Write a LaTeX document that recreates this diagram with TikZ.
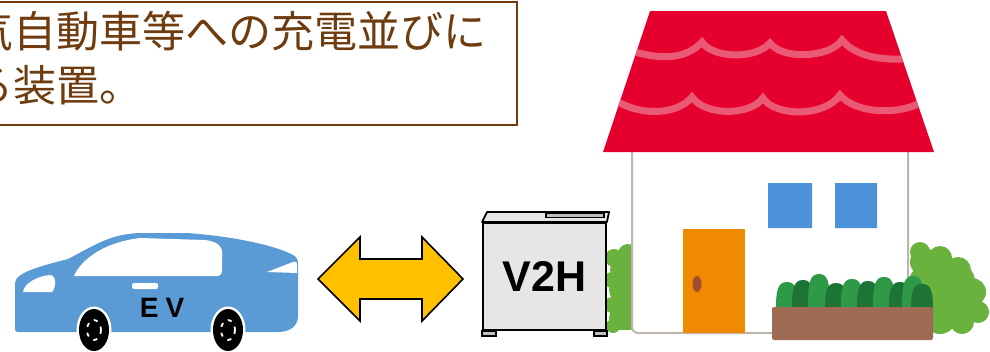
\documentclass[tikz,border=0pt]{standalone}
\usepackage{fontspec}
\newfontfamily\jpfont{Noto Sans CJK JP}
\newfontfamily\labelfont{Liberation Sans}
\definecolor{notebrown}{HTML}{6F3C10}
\definecolor{carblue}{HTML}{5B9BD5}
\definecolor{arrowyellow}{HTML}{FFC000}
\definecolor{unitgrey}{HTML}{E6E6E6}
\definecolor{footgrey}{HTML}{BFBFBF}
\definecolor{roofred}{HTML}{E6002E}
\definecolor{roofpink}{HTML}{EA5A74}
\definecolor{wallgrey}{HTML}{BEB6AA}
\definecolor{winblue}{HTML}{4B92D8}
\definecolor{doororange}{HTML}{F08A00}
\definecolor{knobbrown}{HTML}{9E4E2E}
\definecolor{bushgreen}{HTML}{6AB23E}
\definecolor{leafdark}{HTML}{1D7434}
\definecolor{leafmid}{HTML}{2E9A47}
\definecolor{soilbrown}{HTML}{9E6B52}
\begin{document}
\begin{tikzpicture}[x=1pt,y=-1pt]
\tikzstyle{every node}=[inner sep=0pt]
\tikzstyle{notetext}=[anchor=west,text=notebrown,font=\jpfont\fontsize{43}{54}\selectfont]
\tikzstyle{notebox}=[draw=notebrown,line width=2pt,fill=white]
\tikzstyle{unit}=[draw,line width=1.8pt,fill=unitgrey]
\tikzstyle{wave}=[draw=roofpink,line width=7pt,line cap=round]
\tikzstyle{wheel}=[fill=black]

\clip (0,0) rectangle (990,351);

% note
\draw[notebox] (-70,2) rectangle (517,125);
\node[notetext] (line1) at (-30,31) {気自動車等への充電並びに};
\node[notetext] (line2) at (-30,85) {る装置。};

% car body
\fill[carblue] (15,330) -- (15,283) .. controls (15,272) and (45,265) .. (68,259)
  .. controls (95,245) and (110,234) .. (140,233) -- (187,233)
  .. controls (230,236) and (275,245) .. (293,255) .. controls (297,257) and (298,260) .. (298,264)
  -- (298,316) .. controls (298,326) and (290,332) .. (278,332) -- (20,332)
  .. controls (16,332) and (15,331) .. (15,330) -- cycle;
\fill[white] (74,276) .. controls (80,262) and (100,243) .. (140,238) -- (205,240)
  .. controls (222,242) and (223,250) .. (222,258) -- (222,270)
  .. controls (222,275) and (220,276) .. (215,276) -- cycle;
\fill[white] (23,292) .. controls (24,283) and (38,276) .. (50,275)
  .. controls (57,275) and (56,288) .. (52,292) -- cycle;
\fill[white] (267,272) -- (293,262) .. controls (297,261) and (297,263) .. (297,265) -- (297,273) -- cycle;
\fill[white,rounded corners=2pt] (132,283) rectangle (158,289);
\node[font=\labelfont\bfseries\fontsize{28}{28}\selectfont] (ev) at (162,308) {E\hspace{7pt}V};

% wheels
\foreach \cx/\n in {94/rear,228/front}{
  \coordinate (\n) at (\cx,330);
  \fill[white] (\n) ellipse (17.5 and 23.5);
  \fill[wheel] (\n) ellipse (15 and 21);
  \draw[white,line width=1.8pt,dash pattern=on 4pt off 6pt] (\n) ellipse (7 and 10);
}

% arrow
\filldraw[fill=arrowyellow,line width=1.6pt,line join=miter] (318,279) -- (360,237) -- (360,259)
  -- (422,259) -- (422,237) -- (463,279) -- (422,321) -- (422,299) -- (360,299) -- (360,321) -- cycle;

% bushes
\fill[bushgreen] (614,258) circle (9) (628,254) circle (10) (612,280) circle (8)
  (621,290) circle (12) (612,305) circle (8) (621,318) circle (12) (613,326) circle (7)
  (622,270) circle (12) (622,302) circle (12);
\fill[bushgreen] (618,252) rectangle (634,330);
\fill[bushgreen] (920,252) circle (10) (940,258) circle (12) (958,270) circle (13)
  (972,292) circle (14) (978,312) circle (11) (962,322) circle (12) (940,318) circle (16)
  (930,285) circle (22) (950,295) circle (18) (935,272) circle (22) (955,282) circle (20)
  (960,305) circle (20) (935,308) circle (22) (924,262) circle (14);

% house
\filldraw[fill=white,draw=wallgrey,line width=2pt,rounded corners=6pt] (632,140) rectangle (908,333);
\fill[roofred] (650,11) -- (886,11) -- (934,152) -- (603,152) -- cycle;
\begin{scope}
\clip (650,11) -- (886,11) -- (934,152) -- (603,152) -- cycle;
\draw[wave] (635,52) .. controls (670,62) and (690,55) .. (702,42)
  .. controls (712,58) and (755,60) .. (770,43)
  .. controls (782,60) and (830,58) .. (842,40)
  .. controls (855,56) and (880,60) .. (902,59);
\draw[wave] (620,103) .. controls (645,116) and (678,114) .. (692,97)
  .. controls (705,116) and (750,116) .. (763,98)
  .. controls (775,117) and (825,117) .. (840,95)
  .. controls (855,113) and (895,115) .. (918,104);
\end{scope}
\fill[winblue] (768,183) rectangle (812,228) (835,183) rectangle (877,228);
\fill[doororange] (683,229) rectangle (745,333);
\fill[knobbrown] (697,284) ellipse (4.5 and 8);

% planter
\foreach \x/\c/\t in {787/leafmid/282,803/leafdark/280,819/leafmid/274,836/leafdark/283,
  852/leafmid/279,868/leafdark/281,884/leafmid/277,900/leafdark/282,913/leafmid/276,922/leafdark/284}
  \fill[\c] (\x,\t) .. controls (\x+9,\t) and (\x+11,\t+8) .. (\x+11,308) -- (\x-11,308)
    .. controls (\x-11,\t+8) and (\x-9,\t) .. (\x,\t) -- cycle;
\fill[soilbrown,rounded corners=2pt] (772,307) rectangle (933,340);

% V2H unit
\node[unit,minimum width=123pt,minimum height=107pt,
  font=\labelfont\bfseries\fontsize{43}{43}\selectfont] (v2h) at (544.5,276.5) {V2H};
\filldraw[fill=unitgrey,line width=1.8pt,line join=round] (v2h.north west) -- (487,212)
  -- (609,212) -- (v2h.north east) -- cycle;
\draw[line width=1.2pt,fill=footgrey] (546,213) rectangle (604,217.5);
\filldraw[fill=footgrey,line width=1.4pt] (v2h.south west) rectangle ++(14,5);
\filldraw[fill=footgrey,line width=1.4pt] (v2h.south east) rectangle ++(-13,5);
\end{tikzpicture}
\end{document}
